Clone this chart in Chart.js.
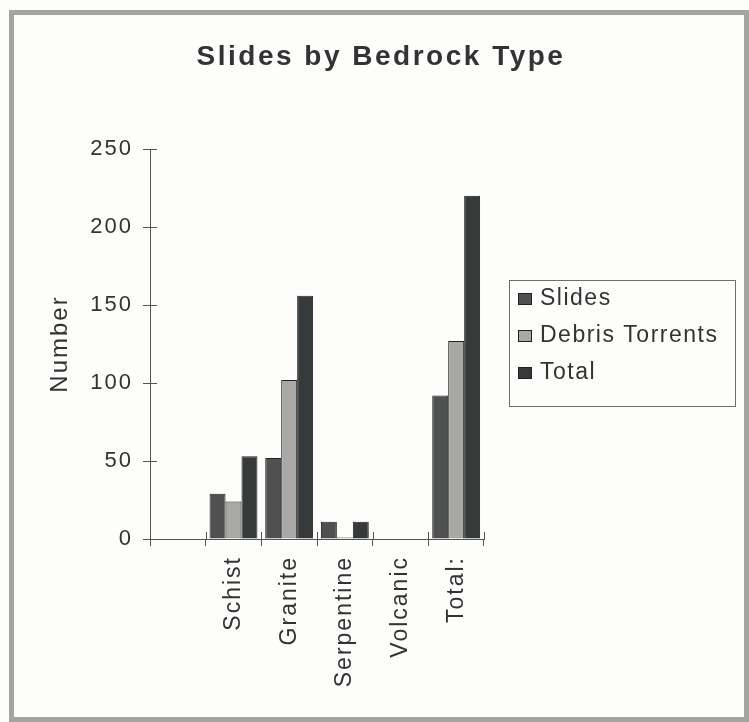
<!DOCTYPE html>
<html>
<head>
<meta charset="utf-8">
<script src="https://cdn.jsdelivr.net/npm/chart.js@4.4.1/dist/chart.umd.min.js"></script>
<style>
  html, body { margin: 0; padding: 0; background: #fdfdfb; }
  #wrap { width: 749px; height: 722px; }
</style>
</head>
<body>
<div id="wrap"><canvas id="c" width="749" height="722"></canvas></div>
<script>
// Landslide counts per bedrock type
const categories = ['', 'Schist', 'Granite', 'Serpentine', 'Volcanic', 'Total:'];
const slides = [null, 29, 52, 11, 0, 92];
const debrisTorrents = [null, 24, 102, 1, 0, 127];
const totals = [null, 53, 156, 11, 0, 220];
const seriesNames = ['Slides', 'Debris Torrents', 'Total'];
const yTickValues = [0, 50, 100, 150, 200, 250];
const chartTitle = 'Slides by Bedrock Type';
const yAxisTitle = 'Number';

const FONT = '"Liberation Sans", Arial, sans-serif';
const TEXT = '#333333';
const AXIS = '#555555';
const SPACING = '2px';

// Wide tracking on all canvas text
const spacingPlugin = {
  id: 'spacing',
  beforeUpdate(chart) { chart.ctx.letterSpacing = SPACING; },
  beforeLayout(chart) { chart.ctx.letterSpacing = SPACING; },
  beforeDraw(chart) { chart.ctx.letterSpacing = SPACING; }
};

// Page background, frame and heading
const framePlugin = {
  id: 'frame',
  beforeDraw(chart) {
    const ctx = chart.ctx;
    ctx.save();
    ctx.fillStyle = '#fdfdfb';
    ctx.fillRect(0, 0, chart.width, chart.height);
    ctx.strokeStyle = '#a4a4a2';
    ctx.lineWidth = 5;
    ctx.strokeRect(11.5, 12.5, 735, 707);
    ctx.fillStyle = TEXT;
    ctx.font = 'bold 28px ' + FONT;
    ctx.letterSpacing = '2.5px';
    ctx.textAlign = 'center';
    ctx.textBaseline = 'alphabetic';
    ctx.fillText(chartTitle, 381, 65);
    ctx.restore();
  }
};

// Tick marks that cross the axis lines, plus the boxed legend
const extrasPlugin = {
  id: 'extras',
  afterDraw(chart) {
    const ctx = chart.ctx;
    const xs = chart.scales.x, ys = chart.scales.y;
    ctx.save();
    ctx.strokeStyle = AXIS;
    ctx.lineWidth = 1;
    ctx.beginPath();
    ys.ticks.forEach((t, i) => {
      const y = Math.round(ys.getPixelForTick(i)) + 0.5;
      ctx.moveTo(xs.left, y);
      ctx.lineTo(xs.left + 7, y);
    });
    const n = categories.length;
    for (let i = 0; i <= n; i++) {
      const x = Math.round(xs.left + i * (xs.right - xs.left) / n) + 0.5;
      ctx.moveTo(x, ys.bottom);
      ctx.lineTo(x, ys.bottom - 7);
    }
    ctx.stroke();

    // legend box
    ctx.strokeStyle = '#6f6f6f';
    ctx.strokeRect(509.5, 280.5, 226, 126);
    ctx.font = '23px ' + FONT;
    ctx.letterSpacing = '1.5px';
    ctx.textAlign = 'left';
    ctx.textBaseline = 'alphabetic';
    const baselines = [305, 342, 379];
    chart.data.datasets.forEach((ds, i) => {
      const b = baselines[i];
      ctx.fillStyle = ds.backgroundColor;
      ctx.fillRect(518, b - 12, 14, 12);
      ctx.strokeStyle = '#222';
      ctx.strokeRect(518.5, b - 11.5, 13, 11);
      ctx.fillStyle = TEXT;
      ctx.fillText(ds.label, 540, b);
    });
    ctx.restore();
  }
};

const yTickFont = { family: FONT, size: 22 };
const xTickFont = { family: FONT, size: 23 };
const titleFont = { family: FONT, size: 24 };

new Chart(document.getElementById('c'), {
  type: 'bar',
  data: {
    labels: categories,
    datasets: [
      { label: seriesNames[0], data: slides, backgroundColor: '#4f5150' },
      { label: seriesNames[1], data: debrisTorrents, backgroundColor: '#a8a8a6' },
      { label: seriesNames[2], data: totals, backgroundColor: '#363a3a' }
    ].map(d => Object.assign(d, {
      borderColor: '#222222',
      borderWidth: 1,
      categoryPercentage: 0.86,
      barPercentage: 1.0
    }))
  },
  options: {
    responsive: false,
    animation: false,
    devicePixelRatio: 1,
    layout: { padding: { top: 149, left: 40, right: 265, bottom: 0 } },
    plugins: {
      legend: { display: false },
      title: { display: false },
      tooltip: { enabled: false }
    },
    scales: {
      x: {
        offset: true,
        grid: { display: true, drawOnChartArea: false, drawTicks: true, tickLength: 7, color: AXIS, offset: true },
        border: { color: AXIS, width: 1 },
        ticks: { minRotation: 90, maxRotation: 90, padding: 10, autoSkip: false, font: xTickFont, color: TEXT },
        afterFit(s) { s.height = 183; }
      },
      y: {
        min: 0,
        max: 250,
        afterBuildTicks(s) { s.ticks = yTickValues.map(v => ({ value: v })); },
        grid: { display: true, drawOnChartArea: false, drawTicks: true, tickLength: 7, color: AXIS },
        border: { color: AXIS, width: 1 },
        ticks: { padding: 10, font: yTickFont, color: TEXT },
        title: { display: true, text: yAxisTitle, font: titleFont, color: TEXT, padding: { top: 6, bottom: 0 } },
        afterFit(s) { s.width = 110; }
      }
    }
  },
  plugins: [spacingPlugin, framePlugin, extrasPlugin]
});
</script>
</body>
</html>
